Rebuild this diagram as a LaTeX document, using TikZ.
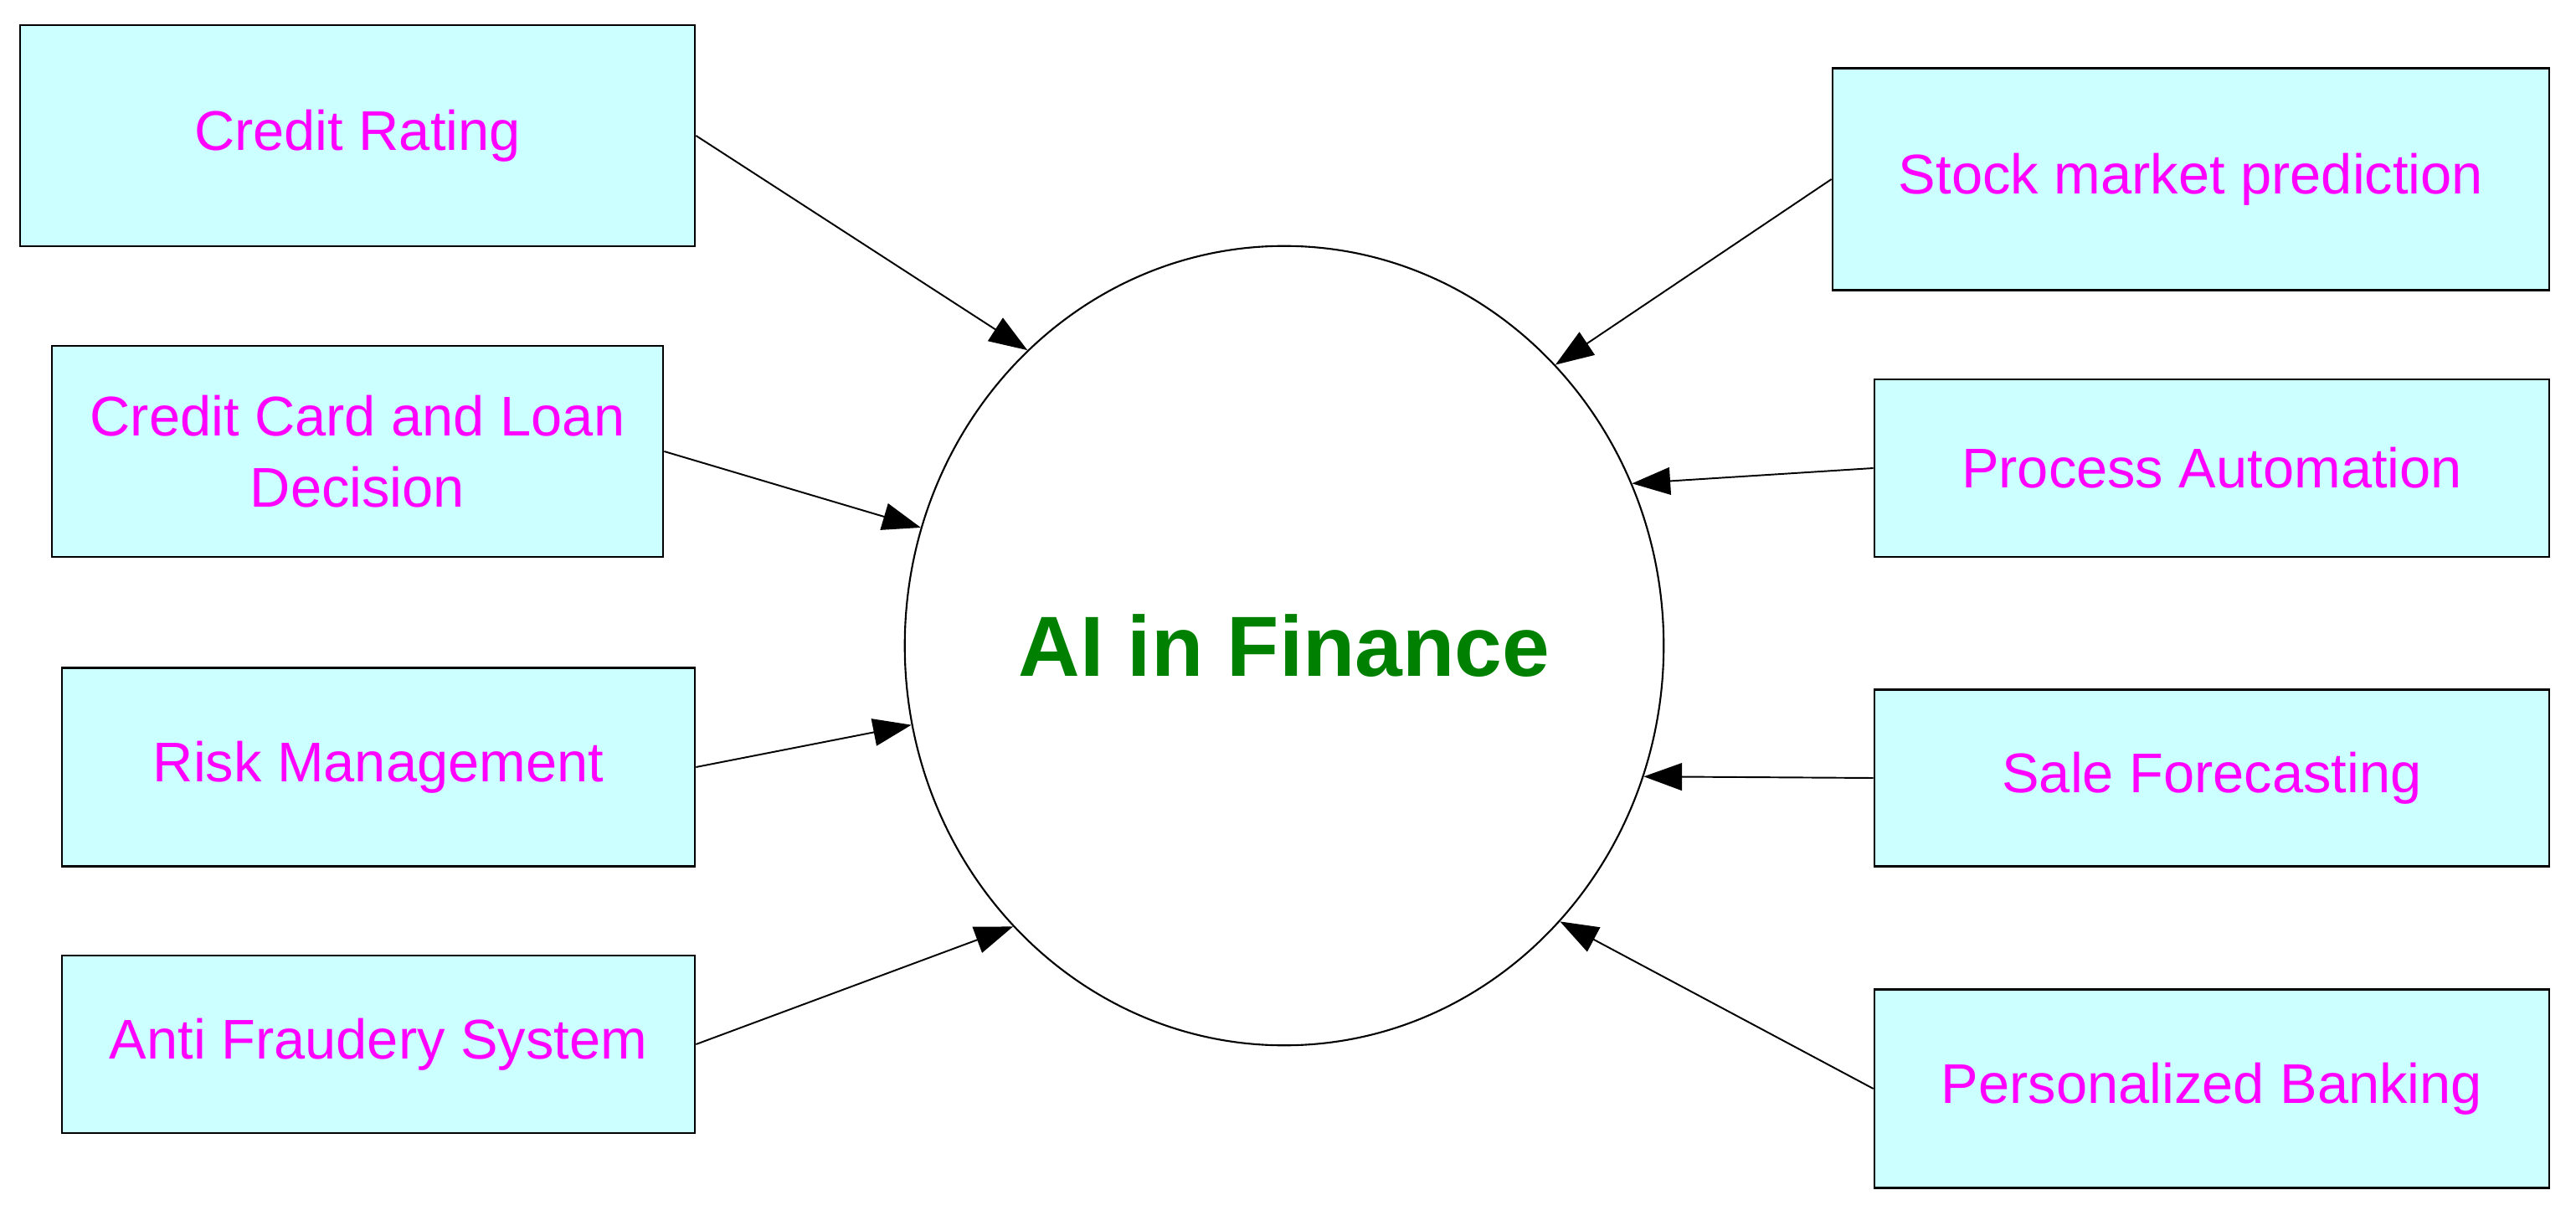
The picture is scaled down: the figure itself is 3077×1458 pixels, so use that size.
\documentclass[tikz,border=0pt]{standalone}
\usepackage{fontspec}
\setmainfont{Liberation Sans}
\usetikzlibrary{arrows.meta,shapes.geometric}
\definecolor{cBox}{HTML}{CCFFFF}
\definecolor{cLabel}{HTML}{FF00FF}
\definecolor{cCore}{HTML}{008000}

\begin{document}
\begin{tikzpicture}[x=0.01cm, y=-0.01cm, font=\fontsize{19}{24}\selectfont,
    usecase/.style={draw, line width=0.65pt, fill=cBox, text=cLabel, inner sep=0pt, align=center},
    feed/.style={line width=0.55pt, -{Triangle[length=13pt,width=9.3pt]}}]
        \useasboundingbox (0,0) rectangle (3077,1458);
        % centre
        \node[ellipse, draw, line width=0.6pt, minimum width=9.06cm, minimum height=9.54cm, inner sep=0pt,
              text=cCore, font=\fontsize{29}{34}\selectfont\bfseries] (ai) at (1534,771) {AI in Finance};
        % left column
        \node[usecase, minimum width=8.06cm, minimum height=2.645cm] (rating)  at (427,162)  {Credit Rating};
        \node[usecase, minimum width=7.30cm, minimum height=2.52cm]  (loan)    at (427,539)  {Credit Card and Loan\\Decision};
        \node[usecase, minimum width=7.56cm, minimum height=2.37cm]  (risk)    at (452,916)  {Risk Management};
        \node[usecase, minimum width=7.56cm, minimum height=2.12cm]  (fraud)   at (452,1247) {Anti Fraudery System};
        % right column
        \node[usecase, minimum width=8.56cm, minimum height=2.65cm]  (stock)   at (2617,214) {Stock market prediction};
        \node[usecase, minimum width=8.06cm, minimum height=2.12cm]  (process) at (2642,559) {Process Automation};
        \node[usecase, minimum width=8.06cm, minimum height=2.11cm]  (sale)    at (2642,929) {Sale Forecasting};
        \node[usecase, minimum width=8.06cm, minimum height=2.37cm]  (banking) at (2642,1300) {Personalized Banking};
        % connectors
        \draw[feed] (rating.east)  -- (ai.131.4);
        \draw[feed] (loan.east)    -- (ai.162.5);
        \draw[feed] (risk.east)    -- (ai.192.3);
        \draw[feed] (fraud.east)   -- (ai.226.5);
        \draw[feed] (stock.west)   -- (ai.46.0);
        \draw[feed] (process.west) -- (ai.25.1);
        \draw[feed] (sale.west)    -- (ai.340.9);
        \draw[feed] (banking.west) -- (ai.315.3);
      \end{tikzpicture}
\end{document}
